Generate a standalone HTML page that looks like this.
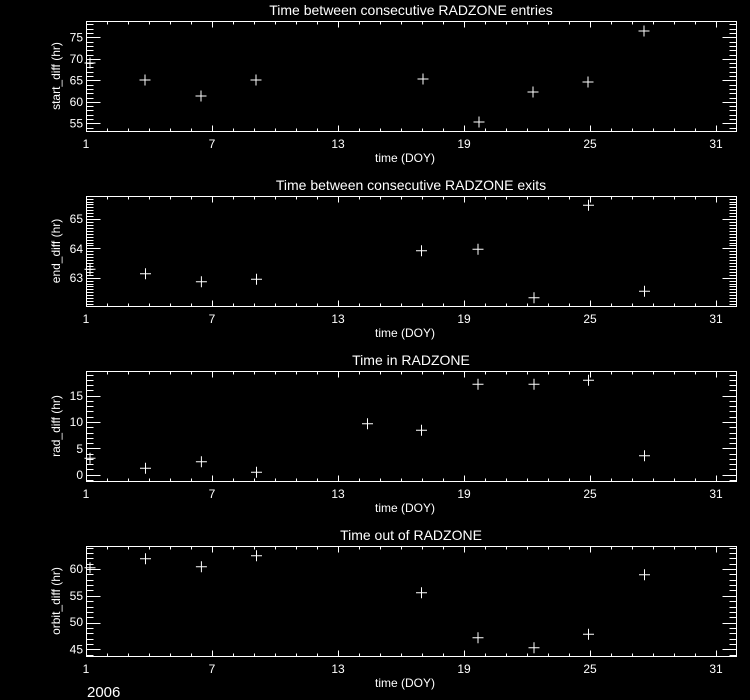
<!DOCTYPE html>
<html><head><meta charset="utf-8"><style>
html,body{margin:0;padding:0;background:#000;}
svg{display:block;}
text{font-family:"Liberation Sans","DejaVu Sans",sans-serif;fill:#fff;}
</style></head><body>
<svg id="s" width="750" height="700" viewBox="0 0 750 700" xmlns="http://www.w3.org/2000/svg">
<rect width="750" height="700" fill="#000"/>
<g font-size="14" text-anchor="middle">
<text x="411" y="15">Time between consecutive RADZONE entries</text>
<text x="411" y="190">Time between consecutive RADZONE exits</text>
<text x="411" y="365">Time in RADZONE</text>
<text x="411" y="540">Time out of RADZONE</text>
</g>
<g font-size="12" text-anchor="middle">
<text x="405" y="162">time (DOY)</text>
<text x="405" y="337">time (DOY)</text>
<text x="405" y="512">time (DOY)</text>
<text x="405" y="687">time (DOY)</text>
<text transform="translate(60,76) rotate(-90)">start_diff (hr)</text>
<text transform="translate(60,251) rotate(-90)">end_diff (hr)</text>
<text transform="translate(60,426) rotate(-90)">rad_diff (hr)</text>
<text transform="translate(60,601) rotate(-90)">orbit_diff (hr)</text>
</g>
<g font-size="12" text-anchor="middle">
<text x="86" y="148">1</text><text x="212" y="148">7</text><text x="338" y="148">13</text><text x="464" y="148">19</text><text x="590" y="148">25</text><text x="716" y="148">31</text>
<text x="86" y="323">1</text><text x="212" y="323">7</text><text x="338" y="323">13</text><text x="464" y="323">19</text><text x="590" y="323">25</text><text x="716" y="323">31</text>
<text x="86" y="498">1</text><text x="212" y="498">7</text><text x="338" y="498">13</text><text x="464" y="498">19</text><text x="590" y="498">25</text><text x="716" y="498">31</text>
<text x="86" y="673">1</text><text x="212" y="673">7</text><text x="338" y="673">13</text><text x="464" y="673">19</text><text x="590" y="673">25</text><text x="716" y="673">31</text>
</g>
<g font-size="12" text-anchor="end">
<text x="83" y="41.5">75</text><text x="83" y="63">70</text><text x="83" y="84.5">65</text><text x="83" y="106">60</text><text x="83" y="127.5">55</text>
<text x="83" y="223">65</text><text x="83" y="253">64</text><text x="83" y="282">63</text>
<text x="83" y="400">15</text><text x="83" y="426">10</text><text x="83" y="453">5</text><text x="83" y="479">0</text>
<text x="83" y="573">60</text><text x="83" y="600">55</text><text x="83" y="626">50</text><text x="83" y="653.5">45</text>
</g>
<text x="87" y="697" font-size="15">2006</text>
<g id="g" stroke="#fff" stroke-width="1" fill="none"></g>
</svg>
<script>
(function(){
var g=document.getElementById('g'),d='';
var panels=[
 {T:21,B:131,y0:123.3,v0:55,k:4.3,maj:5,min:1,lo:54,hi:79,pts:[[90,63],[145,80],[201,96],[256,80],[423,79],[479,122],[533,92],[588,82],[644,31]]},
 {T:196,B:306,y0:277.7,v0:63,k:29.3,maj:1,min:0.1,lo:62.1,hi:65.75,pts:[[90,269.3],[145.5,273.7],[201.4,281.7],[256.5,279.3],[421.5,250.7],[478,249.3],[534,297.7],[588.5,205.3],[644.5,291.3]]},
 {T:371,B:481,y0:474.7,v0:0,k:5.27,maj:5,min:1,lo:-1,hi:19.5,pts:[[90,458.3],[145.5,468.3],[201.4,461.7],[256.5,472.3],[367.5,423.7],[421.5,430.3],[478,384.3],[534,384.3],[588.5,380.3],[644.5,455.7]]},
 {T:546,B:656,y0:649.3,v0:45,k:5.35,maj:5,min:1,lo:44,hi:64.1,pts:[[90,567.7],[145.5,558.7],[201.4,566.7],[256.5,555.7],[421.5,592.7],[478,637.7],[534,647.7],[588.5,634.3],[644.5,574.7]]}
];
panels.forEach(function(p){
 d+='M86.5 '+(p.T+.5)+'H736.5V'+(p.B+.5)+'H86.5Z';
 for(var i=1;i<=31;i++){var x=86+21*(i-1)+.5;var L=((i-1)%6==0)?6:3;
  d+='M'+x+' '+(p.B+.5)+'v-'+L+'M'+x+' '+(p.T+.5)+'v'+L;}
 var n=Math.round((p.hi-p.lo)/p.min);
 for(var j=0;j<=n;j++){var v=p.lo+j*p.min;var y=p.y0-(v-p.v0)*p.k;
  if(y<p.T||y>p.B)continue;var r=Math.abs(v/p.maj-Math.round(v/p.maj))<1e-6;var L=r?14:7;
  y=Math.round(y)+.5;d+='M86.5 '+y+'h'+L+'M736.5 '+y+'h-'+L;}
 p.pts.forEach(function(q){d+='M'+(q[0]-5.5)+' '+q[1]+'h11M'+q[0]+' '+(q[1]-5.5)+'v11';});
});
var e=document.createElementNS('http://www.w3.org/2000/svg','path');e.setAttribute('d',d);g.appendChild(e);
})();
</script>
</body></html>
